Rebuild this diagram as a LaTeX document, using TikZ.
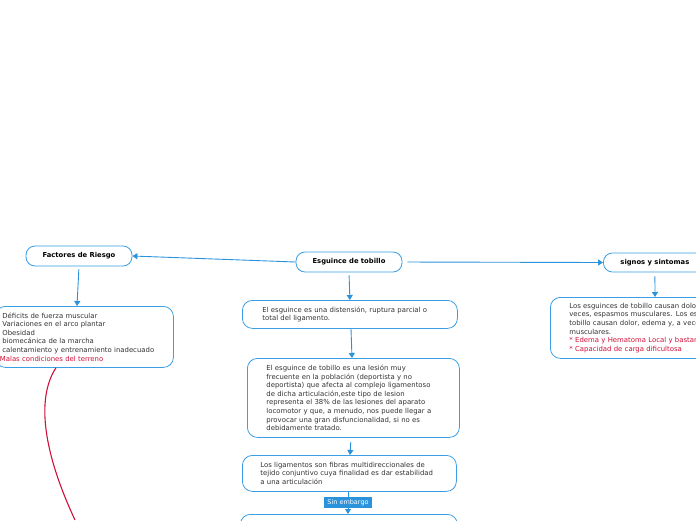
\documentclass[tikz,border=0pt]{standalone}
\usepackage{fontspec}
\setmainfont{DejaVu Sans}
\usetikzlibrary{arrows.meta}
\definecolor{bbl}{HTML}{3A9EE4}
\definecolor{cbl}{HTML}{2B93DC}
\definecolor{rtx}{HTML}{D0103A}
\definecolor{tx}{HTML}{333333}
\tikzset{
  box/.style={draw=bbl, line width=0.8pt, rounded corners=10pt, fill=white, text=tx,
    font=\fontsize{6.9}{8.6}\selectfont, align=left, inner ysep=2pt},
  title/.style={draw=bbl, line width=0.8pt, rounded corners=9pt, fill=white, text=black,
    font=\fontsize{6.8}{8}\selectfont\bfseries, align=center, inner sep=0pt},
  conn/.style={draw=cbl, line width=0.9pt, -{Triangle[length=5pt,width=6pt]}},
  redl/.style={draw=rtx, line width=1.1pt},
  tag/.style={fill=cbl, text=white, font=\fontsize{6.5}{7}\selectfont, inner xsep=3pt, inner ysep=0pt, minimum height=11pt}
}
\begin{document}
\begin{tikzpicture}[x=1pt,y=-1pt]
\useasboundingbox (0,0) rectangle (696,520);

\node[title, minimum width=106pt, minimum height=20pt] (fact) at (79,256) {Factores de Riesgo};
\node[title, minimum width=106pt, minimum height=20pt] (esg) at (349,262) {Esguince de tobillo};
\node[title, minimum width=103pt, minimum height=19pt, anchor=west] (sig) at (603,262.5) {signos y sintomas};

\node[box, anchor=north west, inner xsep=7pt, text width=164pt, minimum height=61pt] (def) at (-5,306)
 {Déficits de fuerza muscular\\Variaciones en el arco plantar\\Obesidad\\biomecánica de la marcha\\calentamiento y entrenamiento inadecuado\\\hspace*{-2.5pt}\textcolor{rtx}{Malas condiciones del terreno}};

\node[box, anchor=north west, inner xsep=20pt, text width=175pt, minimum height=28pt] (dist) at (242,300)
 {El esguince es una distensión, ruptura parcial o\\total del ligamento.};

\node[box, anchor=north west, inner xsep=19pt, text width=174pt, minimum height=79pt] (big) at (247,358)
 {El esguince de tobillo es una lesión muy\\frecuente en la población (deportista y no\\deportista) que afecta al complejo ligamentoso\\de dicha articulación,este tipo de lesion\\representa el 38\% de las lesiones del aparato\\locomotor y que, a menudo, nos puede llegar a\\provocar una gran disfuncionalidad, si no es\\debidamente tratado.};

\node[box, anchor=north west, inner xsep=18pt, text width=178pt, minimum height=36pt] (lig) at (242,455)
 {Los ligamentos son fibras multidireccionales de\\tejido conjuntivo cuya finalidad es dar estabilidad\\a una articulación};

\node[box, anchor=north west, minimum width=217pt, minimum height=50pt] (bot) at (240,514) {};

\node[box, anchor=north west, inner xsep=19pt, text width=190pt, minimum height=61pt] (rgt) at (550,297)
 {Los esguinces de tobillo causan dolor, edema y, a\\veces, espasmos musculares. Los esguinces de\\tobillo causan dolor, edema y, a veces, espasmos\\musculares.\\\textcolor{rtx}{*\ Edema y Hematoma Local y bastante}\\\textcolor{rtx}{*\ Capacidad de carga dificultosa}};

\node[tag] (sin) at (348,502.5) {Sin embargo};

\coordinate (redend) at (75,520);

\draw[conn] (esg.west) -- (fact.east);
\draw[conn, shorten <=5pt] (esg.east) -- (sig.west);
\draw[conn, shorten <=3pt] (esg.south) -- (dist.north);
\draw[conn, shorten <=3pt] (fact.south) -- (def.north -| 77,0);
\draw[conn, shorten <=4pt] (sig.south) -- (rgt.north -| 655,0);
\draw[conn] (dist.south -| 351,0) -- (big.north -| 352,0);
\draw[conn, shorten <=4pt] (big.south -| 351,0) -- (lig.north -| 350,0);
\draw[draw=cbl, line width=0.9pt] (lig.south -| 348,0) -- (sin.north);
\draw[conn] (sin.south) -- (bot.north -| 348,0);
\draw[redl] (def.south -| 56,0) .. controls (38,395) and (40,445) .. (redend);
\end{tikzpicture}
\end{document}
